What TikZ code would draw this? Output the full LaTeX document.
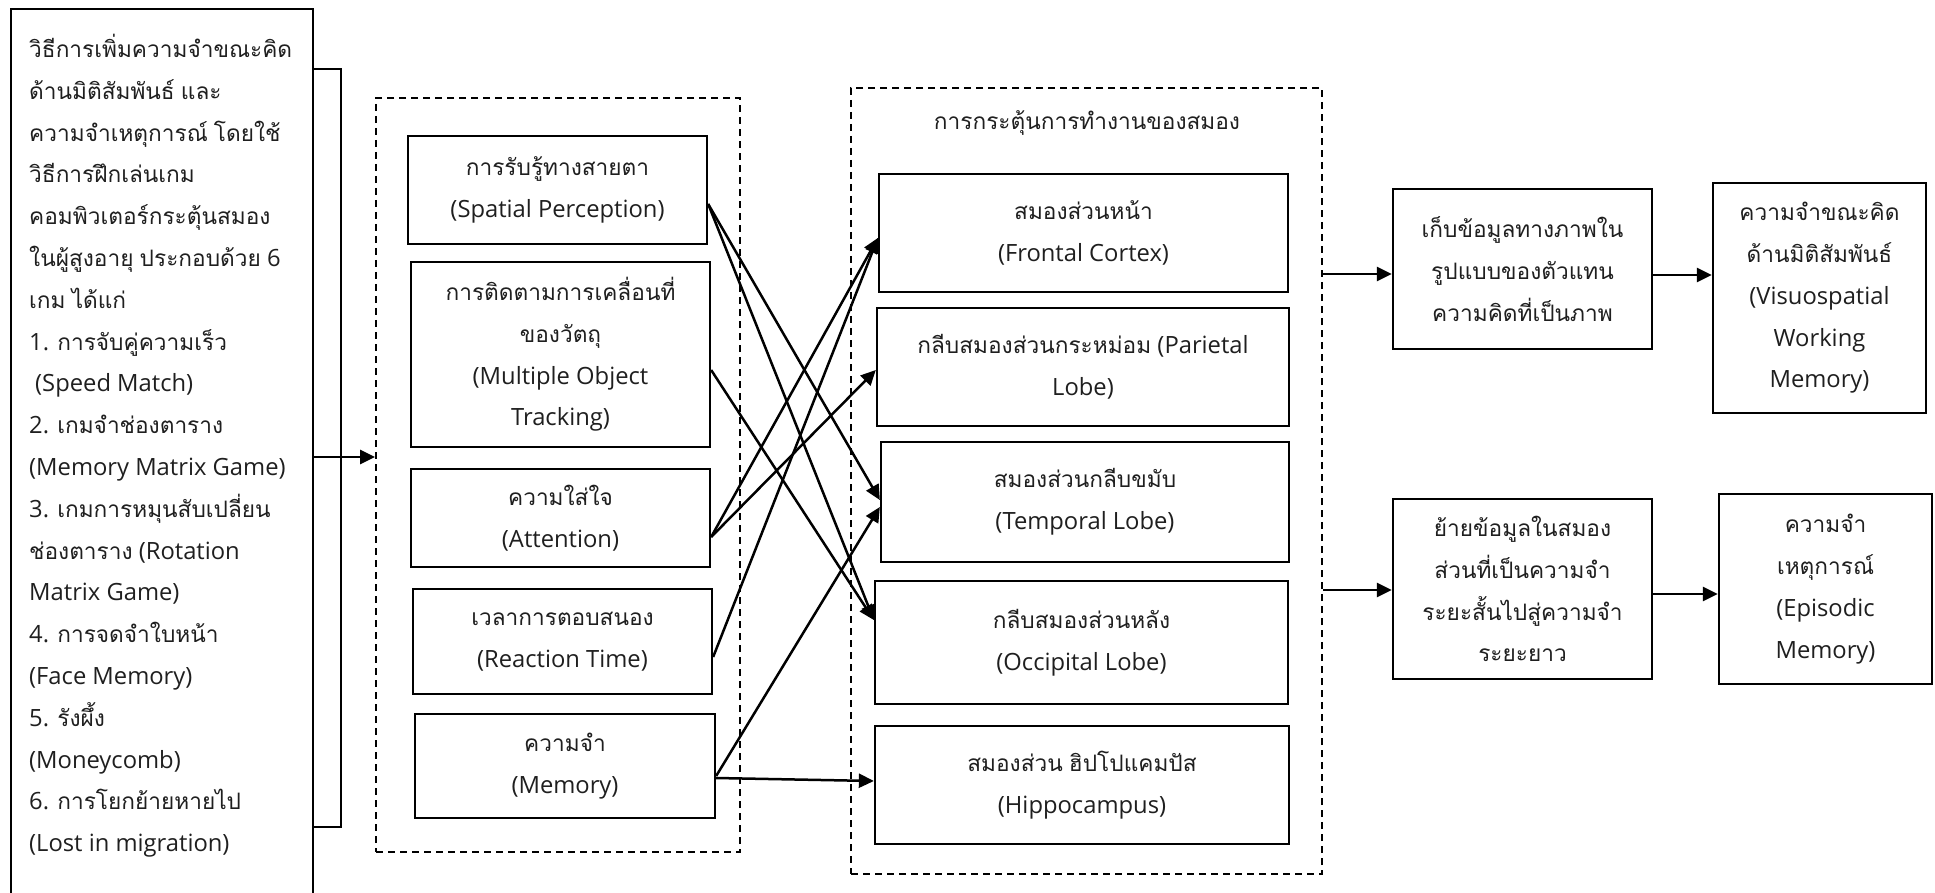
\documentclass[tikz,border=0pt]{standalone}
\usepackage{fontspec}
\setmainfont{Open Sans}[Scale=1.08]
\newfontfamily\thaifont{Loma}[Script=Thai,Scale=1.03]
\usetikzlibrary{arrows.meta}

% switch to the Thai face automatically for characters U+0E00--U+0E7F
\XeTeXinterchartokenstate=1
\newXeTeXintercharclass\ThaiClass
\count255="0E00
\loop
  \XeTeXcharclass\count255=\ThaiClass
  \ifnum\count255<"0E7F \advance\count255 by 1
\repeat
\XeTeXinterchartoks 0 \ThaiClass = {\thaifont}
\XeTeXinterchartoks 4095 \ThaiClass = {\thaifont}
\XeTeXinterchartoks \ThaiClass 0 = {\normalfont}
\XeTeXinterchartoks \ThaiClass 4095 = {\normalfont}

\tikzset{
  txt/.style={font=\fontsize{22}{41.8}\selectfont, text=black!88},
  box/.style={txt, draw, line width=2.3pt, align=center, inner sep=0pt, fill=white},
  group/.style={draw, line width=1.9pt, dash pattern=on 7pt off 5pt, inner sep=0pt},
  arr/.style={line width=2.5pt, -{Triangle[length=15pt,width=14pt]}},
  bracket/.style={line width=1.7pt},
}

\begin{document}
\begin{tikzpicture}[x=1pt,y=-1pt]
\useasboundingbox (0,0) rectangle (1935,893);

% training programme (left column, runs past the lower edge)
\node[draw, line width=2.3pt, minimum width=302, minimum height=892, anchor=north west, inner sep=0pt] (methods) at (10,8) {};
\node[txt, align=left, anchor=north west, inner sep=0pt] (methodstext) at (29,34) {%
วิธีการเพิ่มความจำขณะคิด\\
ด้านมิติสัมพันธ์ และ\\
ความจำเหตุการณ์ โดยใช้\\
วิธีการฝึกเล่นเกม\\
คอมพิวเตอร์กระตุ้นสมอง\\
ในผู้สูงอายุ ประกอบด้วย 6\\
เกม ได้แก่\\
1. การจับคู่ความเร็ว\\
\hspace*{6pt}(Speed Match)\\
2. เกมจำช่องตาราง\\
(Memory Matrix Game)\\
3. เกมการหมุนสับเปลี่ยน\\
ช่องตาราง (Rotation\\
Matrix Game)\\
4. การจดจำใบหน้า\\
(Face Memory)\\
5. รังผึ้ง\\
(Moneycomb)\\
6. การโยกย้ายหายไป\\
(Lost in migration)};

% bracket gathering the six games
\coordinate (btop) at (341,69);
\coordinate (bbot) at (341,827);
\coordinate (feed) at (0,457);
\draw[bracket] (methods.east |- btop) -- (btop) -- (bbot) -- (methods.east |- bbot);

% cognitive skills
\node[group, minimum width=364, minimum height=754] (games) at (558,475) {};
\node[box, minimum width=299, minimum height=108] (spatial) at (557.5,190) {การรับรู้ทางสายตา\\(Spatial Perception)};
\node[box, minimum width=299, minimum height=185] (mot) at (560.5,354.5) {การติดตามการเคลื่อนที่\\ของวัตถุ\\(Multiple Object\\Tracking)};
\node[box, minimum width=299, minimum height=98] (attention) at (560.5,518) {ความใส่ใจ\\(Attention)};
\node[box, minimum width=299, minimum height=105] (reaction) at (562.5,641.5) {เวลาการตอบสนอง\\(Reaction Time)};
\node[box, minimum width=300, minimum height=104] (memory) at (565,766) {ความจำ\\(Memory)};

% brain regions
\node[group, minimum width=471, minimum height=786] (brain) at (1086.5,481) {};
\node[txt] (braintitle) at (1087,123) {การกระตุ้นการทำงานของสมอง};
\node[box, minimum width=409, minimum height=118] (frontal) at (1083.5,233) {สมองส่วนหน้า\\(Frontal Cortex)};
\node[box, minimum width=412, minimum height=118] (parietal) at (1083,367) {กลีบสมองส่วนกระหม่อม (Parietal\\Lobe)};
\node[box, minimum width=408, minimum height=120] (temporal) at (1085,502) {สมองส่วนกลีบขมับ\\(Temporal Lobe)};
\node[box, minimum width=413, minimum height=123] (occipital) at (1081.5,642.5) {กลีบสมองส่วนหลัง\\(Occipital Lobe)};
\node[box, minimum width=414, minimum height=118] (hippo) at (1082,785) {สมองส่วน ฮิปโปแคมปัส\\(Hippocampus)};

% outcomes
\node[box, minimum width=259, minimum height=160] (store) at (1522.5,269) {เก็บข้อมูลทางภาพใน\\รูปแบบของตัวแทน\\ความคิดที่เป็นภาพ};
\node[box, minimum width=213, minimum height=230] (vswm) at (1819.5,298) {ความจำขณะคิด\\ด้านมิติสัมพันธ์\\(Visuospatial\\Working\\Memory)};
\node[box, minimum width=259, minimum height=180] (transfer) at (1522.5,589) {ย้ายข้อมูลในสมอง\\ส่วนที่เป็นความจำ\\ระยะสั้นไปสู่ความจำ\\ระยะยาว};
\node[box, minimum width=213, minimum height=190] (episodic) at (1825.5,589) {ความจำ\\เหตุการณ์\\(Episodic\\Memory)};

% connectors
\draw[arr] (methods.east |- feed) -- (games.west |- feed);

\draw[arr] ([yshift=-14pt]spatial.east) -- ([yshift=2pt]temporal.west);
\draw[arr] ([yshift=-14pt]spatial.east) -- ([yshift=22.5pt]occipital.west);
\draw[arr] ([yshift=-15.5pt]mot.east) -- ([yshift=22.5pt]occipital.west);
\draw[arr] ([yshift=-19pt]attention.east) -- ([yshift=-5pt]frontal.west);
\draw[arr] ([yshift=-19pt]attention.east) -- ([yshift=-3pt]parietal.west);
\draw[arr] ([yshift=-15.5pt]reaction.east) -- ([yshift=-5pt]frontal.west);
\draw[arr] ([yshift=-10pt]memory.east) -- ([yshift=-5pt]temporal.west);
\draw[arr] ([yshift=-12pt]memory.east) -- ([yshift=4pt]hippo.west);

\coordinate (upper) at (0,274);
\coordinate (upperb) at (0,275);
\coordinate (lower) at (0,590);
\coordinate (lowerb) at (0,594);
\draw[arr] (brain.east |- upper) -- (store.west |- upper);
\draw[arr] (store.east |- upperb) -- (vswm.west |- upperb);
\draw[arr] (brain.east |- lower) -- (transfer.west |- lower);
\draw[arr] (transfer.east |- lowerb) -- (episodic.west |- lowerb);
\end{tikzpicture}
\end{document}
